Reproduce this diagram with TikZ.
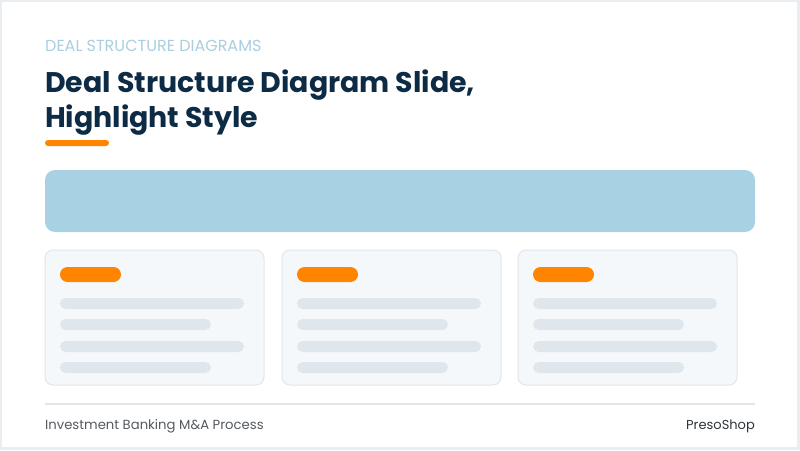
\documentclass[tikz,border=0pt]{standalone}
\usepackage{fontspec}
\setmainfont{Poppins}
\usepackage{xcolor}
\usetikzlibrary{positioning}

\definecolor{pageGray}{HTML}{E9EEF2}
\definecolor{navy}{HTML}{0D2B45}
\definecolor{kicker}{HTML}{A9CFE0}
\definecolor{accent}{HTML}{FF8500}
\definecolor{banner}{HTML}{A8D1E3}
\definecolor{cardFill}{HTML}{F4F8FB}
\definecolor{cardLine}{HTML}{E0E7EC}
\definecolor{barGray}{HTML}{DFE7ED}
\definecolor{footGray}{HTML}{555B61}
\definecolor{brand}{HTML}{2E363D}

\begin{document}
\begin{tikzpicture}[x=1pt,y=-1pt,
                    txt/.style={inner sep=0pt,anchor=base west},
                    card/.style={draw=cardLine,line width=1pt,fill=cardFill,rounded corners=8pt},
                    pill/.style={fill=accent,rounded corners=7.5pt},
                    bar/.style={fill=barGray,rounded corners=5.5pt}]

  % page
  \fill[pageGray] (0,0) rectangle (800,450);
  \fill[white] (2,2) rectangle (797,447);
  \useasboundingbox (0,0) rectangle (800,450);

  % heading
  \node[txt,text=kicker,font=\fontsize{16}{18}\selectfont] (kick) at (45,51) {DEAL STRUCTURE DIAGRAMS};
  \node[txt,text=navy,font=\fontsize{28.4}{34}\selectfont\bfseries] (title1) at (45,92) {Deal Structure Diagram Slide,};
  \node[txt,text=navy,font=\fontsize{28.4}{34}\selectfont\bfseries] (title2) at (45,127) {Highlight Style};
  \fill[accent,rounded corners=3pt] (45,140) rectangle (109,146);

  % banner
  \fill[banner,rounded corners=10pt] (45,170) rectangle (755,232);

  % three cards
  \foreach \x in {45,282,518} {
    \draw[card] (\x,250) rectangle ++(219,135);
    \fill[pill] (\x+15,267) rectangle ++(61,15);
    \fill[bar] (\x+15,298) rectangle ++(184,11);
    \fill[bar] (\x+15,319) rectangle ++(151,11);
    \fill[bar] (\x+15,341) rectangle ++(184,11);
    \fill[bar] (\x+15,362) rectangle ++(151,11);
  }

  % footer
  \draw[cardLine,line width=1.5pt] (45,404) -- (755,404);
  \node[txt,text=footGray,font=\fontsize{13.2}{15}\selectfont] (footL) at (45,429) {Investment Banking M\&A Process};
  \node[inner sep=0pt,anchor=base east,text=brand,font=\fontsize{13}{15}\selectfont] (footR) at (755,429) {PresoShop};
\end{tikzpicture}
\end{document}
